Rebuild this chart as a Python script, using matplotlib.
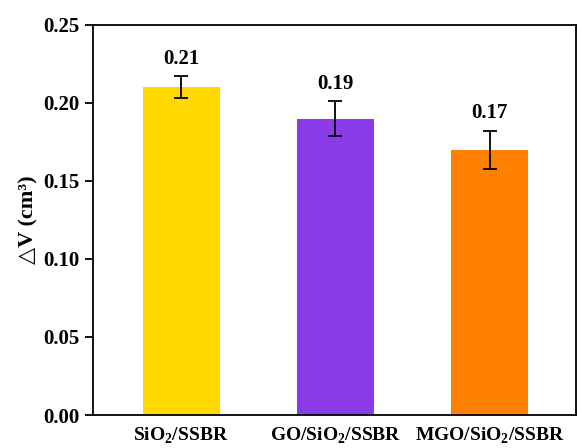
import matplotlib.pyplot as plt

plt.rcParams['font.family'] = ['Liberation Serif', 'DejaVu Serif']
plt.rcParams['font.weight'] = 'bold'
plt.rcParams['mathtext.fontset'] = 'custom'
plt.rcParams['mathtext.rm'] = 'Liberation Serif:bold'
plt.rcParams['mathtext.bf'] = 'Liberation Serif:bold'

samples = ['SiO$_2$/SSBR', 'GO/SiO$_2$/SSBR', 'MGO/SiO$_2$/SSBR']
delta_v = [0.21, 0.19, 0.17]
errors = [0.007, 0.011, 0.012]
colors = ['#FFD800', '#8B3BE8', '#FF7F00']

fig = plt.figure(figsize=(5.82, 4.48), dpi=100)
ax = fig.add_axes([93 / 582, 33 / 448, 483 / 582, 390 / 448])

x = range(len(samples))
ax.bar(x, delta_v, width=0.5, color=colors, yerr=errors,
       error_kw=dict(ecolor='black', elinewidth=1.3, capsize=5, capthick=1.3))

for i, (v, e) in enumerate(zip(delta_v, errors)):
    ax.text(i, v + e + 0.005, f'{v:.2f}', ha='center', va='bottom',
            fontsize=15, fontweight='bold')

ax.set_xlim(-0.571, 2.56)
ax.set_ylim(0, 0.25)
ax.set_yticks([0.0, 0.05, 0.10, 0.15, 0.20, 0.25])
ax.set_yticklabels(['0.00', '0.05', '0.10', '0.15', '0.20', '0.25'])
ax.set_xticks(list(x))
ax.set_xticklabels(samples, fontsize=14, fontweight='bold')
ax.tick_params(axis='x', length=0, pad=8)
ax.tick_params(axis='y', labelsize=15, length=6, width=1.3, direction='out')
ax.set_ylabel('△V (cm³)', fontsize=16, fontweight='bold', labelpad=4)

for s in ax.spines.values():
    s.set_linewidth(1.3)

fig.savefig('out.png', dpi=100)
